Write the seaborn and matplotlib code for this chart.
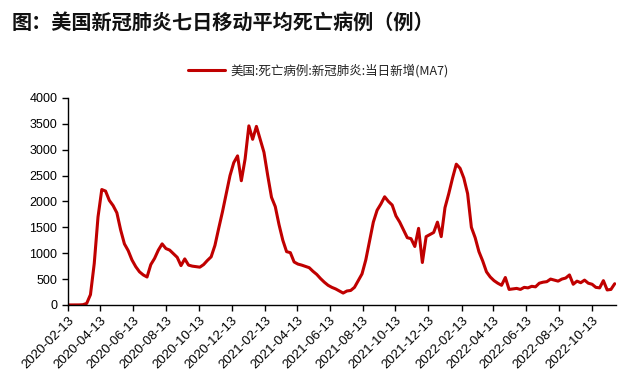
import numpy as np
import pandas as pd
import matplotlib
matplotlib.use("Agg")
import matplotlib.pyplot as plt
import matplotlib.dates as mdates
import seaborn as sns

# Weekly readings of the 7-day moving average of US COVID deaths, from 2020-02-13
start_date = "2020-02-13"
deaths_ma7 = [
    0, 0, 0, 1, 5, 30, 200, 800, 1700, 2230,
    2200, 2020, 1920, 1780, 1450, 1180, 1050, 870, 740, 640,
    580, 540, 780, 900, 1060, 1180, 1090, 1060, 990, 920,
    760, 890, 770, 750, 740, 730, 780, 860, 930, 1150,
    1480, 1800, 2150, 2500, 2750, 2880, 2400, 2820, 3460, 3200,
    3450, 3200, 2950, 2500, 2080, 1900, 1550, 1250, 1030, 1010,
    830, 790, 770, 745, 720, 650, 590, 510, 440, 380,
    340, 310, 270, 230, 270, 280, 340, 470, 600, 870,
    1230, 1600, 1830, 1950, 2090, 2000, 1930, 1720, 1600, 1450,
    1300, 1280, 1130, 1480, 820, 1320, 1360, 1400, 1600, 1320,
    1880, 2150, 2450, 2720, 2640, 2450, 2150, 1500, 1300, 1030,
    850, 640, 540, 470, 420, 380, 530, 300, 310, 320,
    300, 340, 330, 360, 350, 420, 440, 450, 500, 480,
    460, 500, 520, 580, 400, 460, 430, 480, 420, 400,
    340, 330, 470, 290, 300, 410,
]
series_label = "美国:死亡病例:新冠肺炎:当日新增(MA7)"
title = "图：美国新冠肺炎七日移动平均死亡病例（例）"

dates = pd.date_range(start_date, periods=len(deaths_ma7), freq="7D")
df = pd.DataFrame({"date": dates, "deaths": deaths_ma7})

sns.set_theme(style="ticks")
plt.rcParams["font.family"] = ["Liberation Sans", "Noto Sans CJK SC", "DejaVu Sans"]

fig = plt.figure(figsize=(6.4, 3.87), dpi=100)
ax = fig.add_axes([0.106, 0.212, 0.857, 0.535])

sns.lineplot(data=df, x="date", y="deaths", ax=ax, color="#C00000",
             linewidth=2.2, label=series_label, legend=False)

ax.set_ylim(0, 4000)
ax.set_yticks(np.arange(0, 4001, 500))
ax.set_xlim(pd.Timestamp("2020-02-13"), pd.Timestamp("2022-11-27"))
tick_dates = pd.date_range("2020-02-13", periods=17, freq=pd.DateOffset(months=2))
ax.set_xticks(tick_dates)
ax.xaxis.set_major_formatter(mdates.DateFormatter("%Y-%m-%d"))
ax.set_xlabel("")
ax.set_ylabel("")

ax.tick_params(axis="both", colors="black", length=4, width=1, direction="out")
ax.tick_params(axis="y", labelsize=9)
ax.tick_params(axis="x", labelsize=9.5, pad=3)
for lab in ax.get_xticklabels():
    lab.set_rotation(45)
    lab.set_ha("right")
    lab.set_rotation_mode("anchor")
for side in ["top", "right"]:
    ax.spines[side].set_visible(False)
for side in ["left", "bottom"]:
    ax.spines[side].set_color("black")
    ax.spines[side].set_linewidth(1)

fig.text(0.018, 0.943, title, fontsize=14.5, fontweight="bold",
         family=["Noto Sans CJK SC", "DejaVu Sans"], va="center", ha="left",
         color="#111111")

handles, labels = ax.get_legend_handles_labels()
leg = fig.legend(handles, labels, loc="center", bbox_to_anchor=(0.497, 0.818),
                 frameon=False, handlelength=3.0, handletextpad=0.4,
                 prop={"family": ["Noto Sans CJK SC", "DejaVu Sans"], "size": 9})
for t in leg.get_texts():
    t.set_color("#222222")

fig.savefig("out.png", dpi=100)
